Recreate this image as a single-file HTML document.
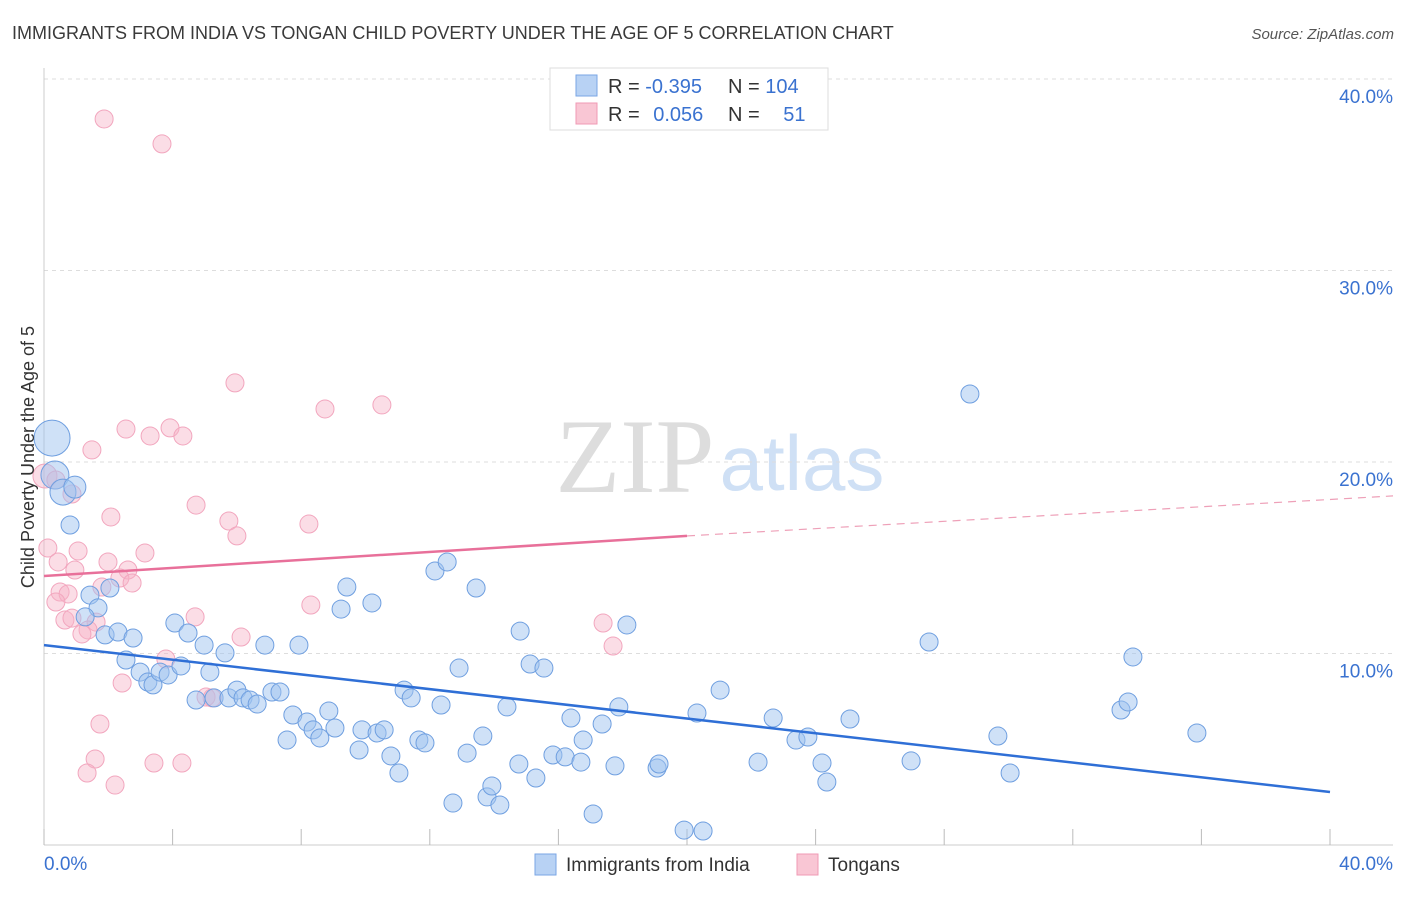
<!DOCTYPE html>
<html><head><meta charset="utf-8"><style>
body{margin:0;background:#fff;font-family:"Liberation Sans",sans-serif}
</style></head><body>
<svg id="c" width="1406" height="892" xmlns="http://www.w3.org/2000/svg">
<text x="12" y="39" font-size="18" fill="#3a3a3a">IMMIGRANTS FROM INDIA VS TONGAN CHILD POVERTY UNDER THE AGE OF 5 CORRELATION CHART</text>
<text x="1394" y="39" font-size="15" fill="#555" font-style="italic" text-anchor="end">Source: ZipAtlas.com</text>
<text x="635" y="492" font-size="106" fill="#ddd" font-family="Liberation Serif" text-anchor="middle">ZIP</text>
<text x="802" y="490" font-size="78" fill="#cfe0f5" text-anchor="middle">atlas</text>
<g id="grid"></g><g id="pts"></g><g id="lines"></g>
<text transform="translate(34,457) rotate(-90)" font-size="18" fill="#333" text-anchor="middle">Child Poverty Under the Age of 5</text>
<g>
<rect x="550" y="68" width="278" height="62" fill="#fff" stroke="#ddd"/>
<rect x="576" y="75" width="21" height="21" fill="#b8d2f4" stroke="#7aa6e4"/>
<rect x="576" y="103" width="21" height="21" fill="#f9c6d4" stroke="#f09ab4"/>
<text x="608" y="93" font-size="20" fill="#333">R = <tspan fill="#3a72d0">-0.395</tspan></text>
<text x="728" y="93" font-size="20" fill="#333">N = <tspan fill="#3a72d0">104</tspan></text>
<text x="608" y="121" font-size="20" fill="#333">R = <tspan fill="#3a72d0" dx="8">0.056</tspan></text>
<text x="728" y="121" font-size="20" fill="#333">N = <tspan fill="#3a72d0" dx="18">51</tspan></text>
</g>
<g>
<rect x="535" y="854" width="21" height="21" fill="#b8d2f4" stroke="#7aa6e4"/>
<text x="566" y="871" font-size="19" fill="#333">Immigrants from India</text>
<rect x="797" y="854" width="21" height="21" fill="#f9c6d4" stroke="#f09ab4"/>
<text x="828" y="871" font-size="19" fill="#333">Tongans</text>
</g>
</svg>
<script>
const yTicks=[10,20,30,40];
const yTickLabels=["10.0%","20.0%","30.0%","40.0%"];
const xTickVals=[0,4,8,12,16,20,24,28,32,36,40];
const blueX=[0.25,0.34,0.59,0.96,0.81,1.43,1.68,1.28,2.05,1.90,2.30,2.77,2.55,2.99,3.23,3.39,3.61,3.86,4.07,4.26,4.48,4.73,4.98,5.16,5.29,5.63,5.75,6.00,6.19,6.41,6.63,6.87,7.09,7.34,7.56,7.74,7.93,8.18,8.37,8.58,8.86,9.05,9.24,9.42,9.80,9.89,10.20,10.36,10.58,10.79,11.04,11.20,11.42,11.66,11.85,12.35,12.16,12.54,12.72,12.91,13.16,13.44,13.65,13.78,13.93,14.18,14.40,14.77,14.81,15.12,15.30,15.55,15.83,16.21,16.39,16.70,16.77,17.08,17.36,17.76,17.88,18.13,19.07,19.13,19.91,20.31,20.50,21.03,22.21,22.68,23.39,23.76,24.20,24.35,25.07,26.97,27.53,28.80,29.67,30.05,33.50,33.72,33.87,35.86];
const blueY=[21.25,19.32,18.43,18.69,16.71,13.05,12.38,11.91,13.42,10.97,11.12,10.81,9.66,9.03,8.51,8.36,9.03,8.88,11.59,9.35,11.07,7.57,10.44,9.03,7.68,10.03,7.68,8.09,7.68,7.57,7.36,10.44,7.99,7.99,5.48,6.79,10.44,6.42,6.01,5.59,7.00,6.11,12.32,13.47,4.96,6.01,12.64,5.85,6.01,4.65,3.76,8.09,7.68,5.48,5.33,7.31,14.31,14.78,2.19,9.24,4.80,13.42,5.69,2.51,3.08,2.09,7.21,4.23,11.17,9.45,3.50,9.24,4.70,4.60,6.63,4.33,5.48,1.62,6.32,4.13,7.21,11.49,4.02,4.23,0.78,6.89,0.73,8.09,4.33,6.63,5.48,5.64,4.28,3.29,6.58,4.39,10.60,23.55,5.69,3.76,7.05,7.47,9.82,5.85];
const blueR=[18,14,13,11];
const pinkX=[1.87,3.67,5.94,8.74,10.51,2.55,3.30,3.92,4.32,1.49,0.03,0.87,4.73,2.08,5.75,6.00,8.24,0.12,1.06,3.14,0.44,0.96,1.99,2.61,2.36,2.74,1.80,0.50,0.75,0.37,0.65,0.87,4.70,8.30,1.62,1.37,1.18,17.39,17.70,6.13,3.79,2.43,5.04,5.23,1.74,1.59,3.42,4.29,1.34,2.21,0.37];
const pinkY=[37.91,36.61,24.13,22.77,22.98,21.72,21.36,21.78,21.36,20.63,19.27,18.33,17.75,17.13,16.92,16.14,16.76,15.51,15.35,15.25,14.78,14.36,14.78,14.36,13.94,13.68,13.47,13.21,13.11,12.69,11.75,11.85,11.91,12.53,11.64,11.23,11.02,11.59,10.39,10.86,9.71,8.46,7.73,7.68,6.32,4.49,4.28,4.28,3.76,3.13,19.06];
const pinkR=[9,9,9,9,9,9,9,9,9,9,12];
const blueFit=[10.44,2.77];
const pinkFit=[14.05,16.14,18.23];
const pinkFitX=[0,20,41.96];
const NS="http://www.w3.org/2000/svg";
const X=v=>44+v*32.15, Y=v=>845-v*19.15;
function mk(t,a,p){const e=document.createElementNS(NS,t);for(const k in a)e.setAttribute(k,a[k]);p.appendChild(e);return e;}
const g=document.getElementById('grid');
yTicks.forEach((t,i)=>{
 const l=mk('line',{x1:44,x2:1393,y1:Y(t),y2:Y(t),stroke:'#ddd','stroke-dasharray':'4,4'},g);
 
 
 const tx=mk('text',{x:1393,y:Y(t)+24,'font-size':19,fill:'#3a72d0','text-anchor':'end'},g);
 tx.textContent=yTickLabels[i];
 
 
});
const ax=mk('line',{x1:44,x2:44,y1:68,y2:845,stroke:'#ccc'},g);


const bx=mk('line',{x1:44,x2:1393,y1:845,y2:845,stroke:'#ccc'},g);


xTickVals.forEach(t=>{
 const l=mk('line',{x1:X(t),x2:X(t),y1:829,y2:845,stroke:'#bbb'},g);
 
 
});
const x0=mk('text',{x:44,y:870,'font-size':19,fill:'#3a72d0'},g);x0.textContent='0.0%';


const x1=mk('text',{x:1393,y:870,'font-size':19,fill:'#3a72d0','text-anchor':'end'},g);x1.textContent='40.0%';


const p=document.getElementById('pts');
pinkX.forEach((v,i)=>{
 const c=mk('circle',{cx:X(v),cy:Y(pinkY[i]),r:pinkR[i]||9,fill:'rgba(247,180,200,0.45)',stroke:'#f2a6be','stroke-width':1},p);
 
 
});
blueX.forEach((v,i)=>{
 const c=mk('circle',{cx:X(v),cy:Y(blueY[i]),r:blueR[i]||9,fill:'rgba(160,195,240,0.5)',stroke:'#6f9fe0','stroke-width':1},p);
 
 
});
const L=document.getElementById('lines');
const bl=mk('line',{x1:X(0),y1:Y(blueFit[0]),x2:X(40),y2:Y(blueFit[1]),stroke:'#2f6fd6','stroke-width':2.5},L);


const pl=mk('line',{x1:X(pinkFitX[0]),y1:Y(pinkFit[0]),x2:X(pinkFitX[1]),y2:Y(pinkFit[1]),stroke:'#e8709a','stroke-width':2.5},L);


const pd=mk('line',{x1:X(pinkFitX[1]),y1:Y(pinkFit[1]),x2:X(pinkFitX[2]),y2:Y(pinkFit[2]),stroke:'#eea0b8','stroke-width':1.2,'stroke-dasharray':'8,6'},L);


</script>
</body></html>
